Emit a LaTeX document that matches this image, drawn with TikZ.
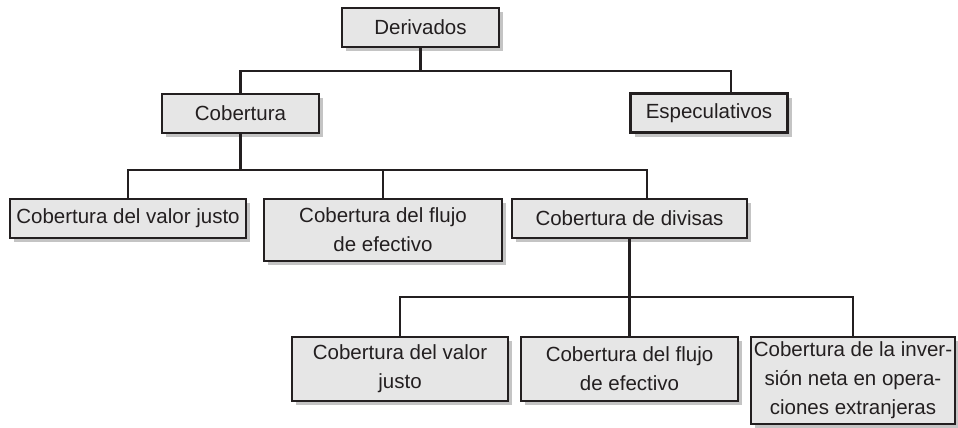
\documentclass[tikz,border=0pt]{standalone}
\usepackage{fontspec}
\setmainfont{Liberation Sans}
\usepackage{tikz}
\usetikzlibrary{shadows}
\definecolor{inkcolor}{RGB}{35,31,32}
\definecolor{boxfill}{RGB}{230,230,230}
\definecolor{shadecolor}{RGB}{196,196,196}
\tikzset{
  cat/.style={draw=inkcolor, line width=2.8pt, fill=boxfill, text=inkcolor, font=\fontsize{20.5}{29}\selectfont, align=center, inner sep=1pt, general shadow={fill=shadecolor, shadow xshift=4pt, shadow yshift=-4pt}},
  link/.style={draw=inkcolor, line width=2.4pt},
}

\begin{document}
\begin{tikzpicture}[x=1pt, y=-1pt]
\useasboundingbox (0,0) rectangle (958,428);
\node[cat, minimum width=157pt, minimum height=39pt] (der) at (420.5,27.5) {Derivados};
\node[cat, minimum width=157pt, minimum height=39pt] (cob) at (240.5,113.5) {Cobertura};
\node[cat, minimum width=157pt, minimum height=39pt] (esp) at (709,113) {Especulativos};
\node[cat, minimum width=236pt, minimum height=39pt] (vjusto) at (128,218.5) {Cobertura del valor justo};
\node[cat, minimum width=238pt, minimum height=62pt] (flujo) at (383,230) {Cobertura del flujo\\de efectivo};
\node[cat, minimum width=235pt, minimum height=39pt] (divisas) at (629.5,218.5) {Cobertura de divisas};
\node[cat, minimum width=216pt, minimum height=64pt] (dvjusto) at (400,369) {Cobertura del valor\\justo};
\node[cat, minimum width=217pt, minimum height=64pt] (dflujo) at (629.5,369) {Cobertura del flujo\\de efectivo};
\node[cat, minimum width=204pt, minimum height=87pt] (dinv) at (853,380.5) {Cobertura de la inver-\\sión neta en opera-\\ciones extranjeras};
\coordinate (busa) at (0,71);
\coordinate (busb) at (0,170);
\coordinate (busc) at (0,297);
\draw[link] (der.south) -- (der.south |- busa);
\draw[link] (cob.north) -- (cob.north |- busa) -- ([xshift=22pt]esp.north |- busa) -- ([xshift=22pt]esp.north);
\draw[link] (cob.south) -- (cob.south |- busb);
\draw[link] (vjusto.north) -- (vjusto.north |- busb) -- ([xshift=17.5pt]divisas.north |- busb) -- ([xshift=17.5pt]divisas.north);
\draw[link] (flujo.north) -- (flujo.north |- busb);
\draw[link] (divisas.south) -- (dflujo.north);
\draw[link] (dvjusto.north) -- (dvjusto.north |- busc) -- (dinv.north |- busc) -- (dinv.north);
\end{tikzpicture}
\end{document}
